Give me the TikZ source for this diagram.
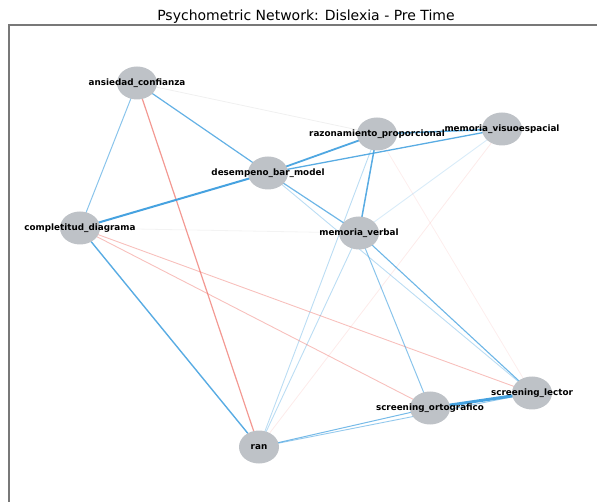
\documentclass[tikz,border=0pt]{standalone}
\usepackage{fontspec}
\setmainfont{DejaVu Sans}
\usetikzlibrary{shapes.geometric}
\pgfdeclarelayer{bg}
\pgfsetlayers{bg,main}
\definecolor{nodegray}{RGB}{190,194,199}
\definecolor{eblue}{RGB}{60,157,222}
\definecolor{ered}{RGB}{236,90,80}
\definecolor{egray}{RGB}{170,170,170}
\definecolor{framecol}{RGB}{120,120,120}
\tikzset{
  vert/.style={ellipse, fill=nodegray, minimum width=40pt, minimum height=33pt, inner sep=0pt},
  lbl/.style={font=\fontsize{8.8}{10}\selectfont\bfseries, inner sep=0pt, text=black},
  pos/.style={eblue, line width=#1},
  neg/.style={ered, line width=#1},
  neu/.style={egray, line width=#1},
}
\begin{document}
\begin{tikzpicture}[x=1pt,y=-1pt]
\useasboundingbox (0,0) rectangle (597,502);
% frame
\coordinate (fbl) at (9,502);
\coordinate (ftl) at (9,25);
\coordinate (ftr) at (597,25);
\draw[framecol, line width=1.3pt] (fbl) -- (ftl) -- (ftr);
\node[font=\fontsize{14}{16}\selectfont, inner sep=0pt, anchor=base] (title) at (306,20.5) {Psychometric Network: Dislexia - Pre Time};
% nodes
\node[vert] (ans) at (137,83) {};
\node[vert] (des) at (268,173) {};
\node[vert] (raz) at (377,134) {};
\node[vert] (vis) at (502,129) {};
\node[vert] (comp) at (80,228) {};
\node[vert] (mv) at (359,233) {};
\node[vert] (lec) at (532,393) {};
\node[vert] (ort) at (430,408) {};
\node[vert] (ran) at (259,447) {};
% edges
\begin{pgfonlayer}{bg}
\draw[neu=0.8, draw opacity=.18] (ans.center) -- (raz.center);
\draw[neu=0.8, draw opacity=.14] (comp.center) -- (mv.center);
\draw[neg=0.8, draw opacity=.12] (vis.center) -- (ran.center);
\draw[neg=0.8, draw opacity=.10] (raz.center) -- (lec.center);
\draw[pos=0.9, draw opacity=.2] (vis.center) -- (mv.center);
\draw[pos=0.9, draw opacity=.35] (des.center) -- (lec.center);
\draw[pos=0.9, draw opacity=.35] (raz.center) -- (ran.center);
\draw[pos=0.9, draw opacity=.35] (mv.center) -- (ran.center);
\draw[neg=0.9, draw opacity=.38] (comp.center) -- (lec.center);
\draw[neg=0.9, draw opacity=.38] (comp.center) -- (ort.center);
\draw[pos=1.0, draw opacity=.6] (ans.center) -- (comp.center);
\draw[pos=0.9, draw opacity=.55] (ran.center) -- (lec.center);
\draw[pos=1.0, draw opacity=.7] (ran.center) -- (ort.center);
\draw[pos=1.0, draw opacity=.6] (mv.center) -- (ort.center);
\draw[pos=1.1, draw opacity=.75] (mv.center) -- (lec.center);
\draw[pos=1.2, draw opacity=.75] (des.center) -- (mv.center);
\draw[pos=1.2, draw opacity=.8] (ans.center) -- (des.center);
\draw[neg=1.2, draw opacity=.62] (ans.center) -- (ran.center);
\draw[pos=1.4, draw opacity=.85] (comp.center) -- (ran.center);
\draw[pos=1.5, draw opacity=.85] (raz.center) -- (mv.center);
\draw[pos=1.4, draw opacity=.85] (raz.center) -- (vis.center);
\draw[pos=1.3, draw opacity=.85] (des.center) -- (vis.center);
\draw[pos=1.8, draw opacity=.9] (des.center) -- (raz.center);
\draw[pos=2.0, draw opacity=.95] (comp.center) -- (des.center);
\draw[pos=3.0, draw opacity=.95] (ort.center) -- (lec.center);
\end{pgfonlayer}
% labels
\node[lbl] (l-ans) at (ans) {ansiedad\_confianza};
\node[lbl] (l-des) at (des) {desempeno\_bar\_model};
\node[lbl] (l-raz) at (raz) {razonamiento\_proporcional};
\node[lbl] (l-vis) at (vis) {memoria\_visuoespacial};
\node[lbl] (l-comp) at (comp) {completitud\_diagrama};
\node[lbl] (l-mv) at (mv) {memoria\_verbal};
\node[lbl] (l-lec) at (lec) {screening\_lector};
\node[lbl] (l-ort) at (ort) {screening\_ortografico};
\node[lbl] (l-ran) at (ran) {ran};
\end{tikzpicture}
\end{document}
